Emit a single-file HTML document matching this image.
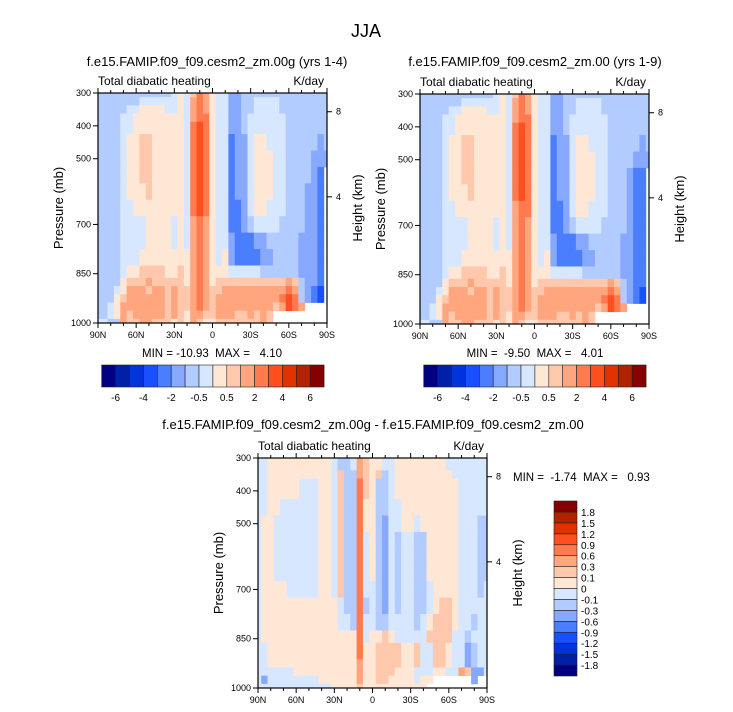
<!DOCTYPE html>
<html><head><meta charset="utf-8">
<style>
html,body{margin:0;padding:0;background:#fff;}
svg{display:block;font-family:"Liberation Sans",Arial,sans-serif;}
</style></head>
<body>
<svg id="chart" width="733" height="712" viewBox="0 0 733 712" xmlns="http://www.w3.org/2000/svg">
<text x="366" y="37" font-size="18" text-anchor="middle">JJA</text>
</svg>
<script>
// ---- data ----
const latLabels = ["90N","60N","30N","0","30S","60S","90S"];
const pressureTicks = [300,400,500,700,850,1000];
const heightTicks = [8,4];
const heightTickPressure = [357,616];
const rowPressures = [300,325,350,375,400,450,500,550,600,650,700,750,800,850,875,900,925,950,975,1000];
// level index (hex) per 5-degree latitude column 90N..90S, grouped 6 cols per chunk; '.' = missing
const p1Rows = [
["666666","666666","7879ba","877556","666666","666666","6"],
["666666","677777","787aba","877556","677776","666666","6"],
["666667","788887","787aba","877556","677776","666666","6"],
["666677","888888","887abb","877556","777777","666666","6"],
["666677","888888","887bcb","877556","777777","666666","6"],
["666678","899888","887bcb","877455","788777","666665","6"],
["666678","899888","887bcb","877455","788877","666655","5"],
["666678","899888","887bcb","877455","788877","666654","."],
["666678","889888","887bcb","877455","788877","666554","."],
["666677","888888","887bcb","877445","788777","666554","."],
["666677","778888","787aba","877445","677776","666554","."],
["666677","778888","787aba","877544","455666","665554","."],
["666677","788888","888aba","878544","445566","665554","."],
["666678","899998","898aba","888777","776666","665554","."],
["666689","99a999","998aba","899999","999999","a96554","."],
["66678a","aa9aa9","a99aba","99aaaa","aaaaaa","ba6543","."],
["66689a","aaaaa9","a99aba","9aaaaa","aaaaab","cb6543","."],
["6678aa","aaaaa9","a99aba","9aaaaa","aaaa9a","cba...","."],
["6678a9","aaaaa9","a98aa9","9aaa99","a9a9..","......","."],
["7766a9","9aa999","898a98","899999","99a9..","......","."]
];
const p2Rows = [
["666666","666666","7879ba","877556","666666","666666","6"],
["666666","677777","787aba","877556","677776","666666","6"],
["666667","788887","787aba","877556","677776","666666","6"],
["666677","888888","887abb","877556","777777","666666","6"],
["666677","888888","887bcb","877556","777777","666666","6"],
["666678","899888","887bcb","877455","788777","666665","6"],
["666678","899888","887bcb","877455","788877","666655","5"],
["666678","899888","887bcb","877455","788877","666544","."],
["666678","889888","887bcb","877455","788877","666544","."],
["666677","888888","887abb","877445","788777","666544","."],
["666677","778888","787aba","877445","677776","666544","."],
["666677","778888","787aba","877544","455666","665544","."],
["666677","788888","888aba","878544","445566","665544","."],
["666678","899998","898aba","888777","776666","665544","."],
["666689","99a999","998aba","899999","999999","a96544","."],
["66678a","aa9aa9","a99aba","99aaaa","aaaaaa","ba6543","."],
["66689a","aaaaa9","a99aba","9aaaaa","aaaaab","cb6543","."],
["6678aa","aaaaa9","a99aba","9aaaaa","aaaa9a","cba...","."],
["6678a9","aaaaa9","a98aa9","9aaa99","a9a9..","......","."],
["7766a9","9aa999","898a98","899999","99a9..","......","."]
];
const p3Rows = [
["778888","888888","7667a9","887788","888888","777777","7"],
["778888","888888","7667a9","887788","888888","777777","7"],
["778888","888888","7966a9","896788","888888","877777","7"],
["778888","877788","7966b9","866788","888888","887777","7"],
["778888","877788","7966b9","866788","888888","887777","7"],
["778877","777788","7966b8","866778","888888","887777","7"],
["788777","777788","7966b8","865778","878888","887776","6"],
["788777","777788","7966b7","865767","766888","887776","6"],
["788777","777788","7966b7","865767","766888","887776","6"],
["788777","777788","7966b7","865767","766888","887776","6"],
["788887","777788","7966b7","765767","766788","887776","7"],
["788888","888888","8766b6","765767","766789","987777","7"],
["788888","888888","8776b7","766777","767899","987767","7"],
["788888","888888","8888b7","889877","777999","977677","7"],
["778888","888888","8888b8","899998","897799","877567","7"],
["778888","888888","8888b8","899998","897799","877567","7"],
["778888","888888","8888a8","899998","897799","877567","7"],
["777777","888888","8888a8","899988","877788","77a955","7"],
["757777","777788","8888a8","899888","8788..","....5.","."],
["777777","777777","888898","888888","888...","......","."]
];
const palette = ["#000080","#0020a8","#0033dd","#1a4fff","#4a7eff","#86a8ff","#b3ccff","#d6e7ff","#ffe7d6","#ffc8ad","#ffa67f","#ff7a4f","#ff4f1f","#e03200","#b02200","#870000"];
const cb1Labels = ["-6","-4","-2","-0.5","0.5","2","4","6"];
const cb3Labels = ["1.8","1.5","1.2","0.9","0.6","0.3","0.1","0","-0.1","-0.3","-0.6","-0.9","-1.2","-1.5","-1.8"];

const NS="http://www.w3.org/2000/svg";
const svg=document.getElementById('chart');
function mk(tag,attrs,parent){const e=document.createElementNS(NS,tag);for(const k in attrs)e.setAttribute(k,attrs[k]);(parent||svg).appendChild(e);return e;}
function txt(x,y,s,size,anchor,parent){const t=mk('text',{x:x,y:y,'font-size':size,'text-anchor':anchor||'start'},parent);t.textContent=s;return t;}

function panel(cfg){
  const g=mk('g',{});
  
  
  const x0=cfg.x,x1=cfg.x+229,y0=cfg.y,y1=cfg.y+230,W=229,H=230;
  const xs=f=>x0+f*W;
  const ys=p=>y0+(p-300)/700*H;
  const rows=cfg.rows.map(r=>r.join(''));
  const field=mk('g',{},g);
  
  
  for(let r=0;r<rowPressures.length;r++){
    const pTop=r===0?300:(rowPressures[r-1]+rowPressures[r])/2;
    const pBot=r===rowPressures.length-1?1000:(rowPressures[r]+rowPressures[r+1])/2;
    for(let c=0;c<37;c++){
      const ch=rows[r][c];
      if(ch==='.'||ch===undefined)continue;
      const idx=parseInt(ch,16);
      const fl=Math.max(0,(c-0.5)/36),fr=Math.min(1,(c+0.5)/36);
      const cell=mk('rect',{x:xs(fl).toFixed(2),y:ys(pTop).toFixed(2),width:(xs(fr)-xs(fl)+0.4).toFixed(2),height:(ys(pBot)-ys(pTop)+0.4).toFixed(2),fill:palette[idx]},field);
      
      
    }
  }
  const frame=mk('rect',{x:x0,y:y0,width:W,height:H,fill:'none',stroke:'#000','stroke-width':1.2},g);
  
  
  for(let k=0;k<=18;k++){
    const x=xs(k/18),len=(k%3===0)?5:3;
    mk('line',{x1:x,y1:y1,x2:x,y2:y1+len,stroke:'#000'},g);
    mk('line',{x1:x,y1:y0,x2:x,y2:y0-len,stroke:'#000'},g);
  }
  latLabels.forEach((s,i)=>{const t=txt(xs(i/6),y1+15,s,9,'middle',g);
    });
  pressureTicks.forEach(p=>{mk('line',{x1:x0,y1:ys(p),x2:x0-5,y2:ys(p),stroke:'#000'},g);
    const t=txt(x0-7,ys(p)+3,String(p),9,'end',g);
    });
  heightTicks.forEach((h,i)=>{const y=ys(heightTickPressure[i]);mk('line',{x1:x1,y1:y,x2:x1+5,y2:y,stroke:'#000'},g);
    const t=txt(x1+9,y+3,String(h),9,'start',g);
    });
  let t=txt(0,0,'Pressure (mb)',13,'middle',g);
  t.setAttribute('transform',`translate(${x0-35},${y0+H/2}) rotate(-90)`);
  
  t=txt(0,0,'Height (km)',13,'middle',g);
  t.setAttribute('transform',`translate(${x1+35},${y0+H/2}) rotate(-90)`);
  
  t=txt(x0,y0-8,'Total diabatic heating',12,'start',g);
  
  t=txt(x1-3,y0-8,'K/day',12,'end',g);
  
  t=txt(cfg.titleX,cfg.titleY,cfg.title,13,'middle',g);
  
  t=txt(cfg.mmX,cfg.mmY,cfg.minmax,11.5,cfg.mmAnchor,g);
  t.style.whiteSpace='pre';
  
}

function hbar(x,y){
  const g=mk('g',{});
  
  
  const bw=222.4/16;
  palette.forEach((c,i)=>{const r=mk('rect',{x:x+i*bw,y:y,width:bw,height:22,fill:c,stroke:'#222','stroke-width':0.6},g);
    });
  cb1Labels.forEach((s,i)=>{const t=txt(x+(2*i+1)*bw,y+36,s,10,'middle',g);
    });
}
function vbar(x,y){
  const g=mk('g',{});
  
  
  const bh=175/16;
  palette.forEach((c,i)=>{const r=mk('rect',{x:x,y:y+(15-i)*bh,width:23,height:bh,fill:c,stroke:'#222','stroke-width':0.6},g);
    });
  cb3Labels.forEach((s,i)=>{const t=txt(x+27,y+(i+1)*bh+4,s,10,'start',g);
    });
}

panel({name:'panel-00g',x:98,y:93,rows:p1Rows,title:'f.e15.FAMIP.f09_f09.cesm2_zm.00g (yrs 1-4)',titleX:217,titleY:66,minmax:'MIN = -10.93  MAX =   4.10',mmX:212,mmY:357,mmAnchor:'middle'});
panel({name:'panel-00',x:420,y:94,rows:p2Rows,title:'f.e15.FAMIP.f09_f09.cesm2_zm.00 (yrs 1-9)',titleX:535,titleY:66,minmax:'MIN =  -9.50  MAX =   4.01',mmX:535,mmY:357,mmAnchor:'middle'});
panel({name:'panel-difference',x:258,y:458,rows:p3Rows,title:'f.e15.FAMIP.f09_f09.cesm2_zm.00g - f.e15.FAMIP.f09_f09.cesm2_zm.00',titleX:373,titleY:429,minmax:'MIN =  -1.74  MAX =   0.93',mmX:513,mmY:481,mmAnchor:'start'});
hbar(101.7,365);
hbar(423.7,365);
vbar(554,501);
</script>
</body></html>
